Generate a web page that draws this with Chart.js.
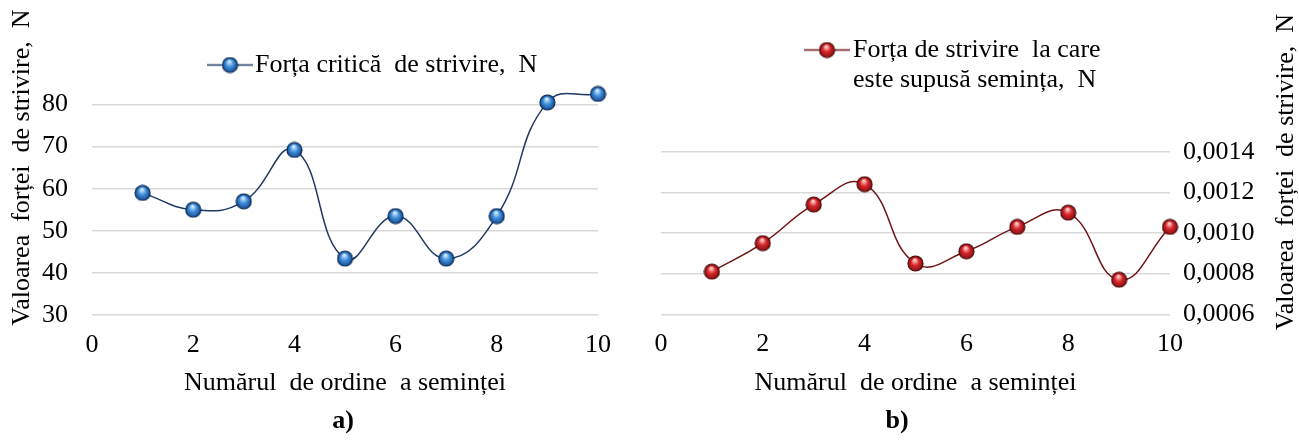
<!DOCTYPE html>
<html>
<head>
<meta charset="utf-8">
<script src="https://cdn.jsdelivr.net/npm/chart.js@4.4.1/dist/chart.umd.min.js"></script>
<style>
  html, body { margin: 0; padding: 0; background: #fff; }
  #wrap { position: relative; width: 1299px; height: 441px; overflow: hidden; }
  .panel { position: absolute; top: 0; height: 441px; }
  #pa { left: 0; width: 650px; }
  #pb { left: 650px; width: 649px; }
  .cap {
    position: absolute; top: 404px; transform: translateX(-50%);
    font: bold 26px 'Liberation Serif', 'Times New Roman', serif;
    line-height: 32px; color: #000; white-space: nowrap;
  }
</style>
</head>
<body>
<div id="wrap">
  <div class="panel" id="pa"><canvas id="ca" width="650" height="441"></canvas></div>
  <div class="panel" id="pb"><canvas id="cb" width="649" height="441"></canvas></div>
  <div class="cap" style="left:343px">a)</div>
  <div class="cap" style="left:897px">b)</div>
</div>
<script>
// Seed number (x) and measured forces
const seeds = [1, 2, 3, 4, 5, 6, 7, 8, 9, 10];
const criticalForce = [59, 55, 57, 69.2, 43.4, 53.5, 43.4, 53.5, 80.5, 82.5];
const appliedForce = [0.00081, 0.00095, 0.00114, 0.00124, 0.00085, 0.00091, 0.00103, 0.00110, 0.00077, 0.00103];

// Axis ticks
const xTicks = [0, 2, 4, 6, 8, 10];
const yTicksA = [30, 40, 50, 60, 70, 80];
const yTicksB = [0.0006, 0.0008, 0.0010, 0.0012, 0.0014];

// Texts
const legendA = ['Forța critică  de strivire,  N'];
const legendB = ['Forța de strivire  la care', 'este supusă semința,  N'];
const xTitle = 'Numărul  de ordine  a seminței';
const yTitle = 'Valoarea  forței  de strivire,  N';

const SERIF = "'Liberation Serif', 'Times New Roman', serif";
const FONT = { family: SERIF, size: 26, lineHeight: 1.2 };
const GRID = '#d9d9d9';
const CLEAR = 'rgba(0,0,0,0)';

// Glossy sphere used as point marker
function ball(r, light, mid, dark, rim) {
  const s = Math.ceil(r * 2 + 2);
  const c = document.createElement('canvas');
  c.width = s; c.height = s;
  const g = c.getContext('2d');
  const cx = s / 2, cy = s / 2;
  const grad = g.createRadialGradient(cx - r * 0.1, cy - r * 0.5, r * 0.08, cx, cy + r * 0.1, r * 1.05);
  grad.addColorStop(0, light);
  grad.addColorStop(0.45, mid);
  grad.addColorStop(1, dark);
  g.beginPath();
  g.arc(cx, cy, r, 0, Math.PI * 2);
  g.fillStyle = grad;
  g.fill();
  g.lineWidth = 1.2;
  g.strokeStyle = rim;
  g.stroke();
  return c;
}

// Legend symbol: short line with the marker in the middle
function legendIcon(marker, lineColor) {
  const c = document.createElement('canvas');
  c.width = 46; c.height = marker.height;
  const g = c.getContext('2d');
  g.strokeStyle = lineColor;
  g.lineWidth = 1.6;
  g.beginPath();
  g.moveTo(0, c.height / 2);
  g.lineTo(46, c.height / 2);
  g.stroke();
  g.drawImage(marker, 23 - marker.width / 2, 0);
  return c;
}

const blueBall = ball(7.5, '#d8efff', '#3f8fdc', '#0f3f80', '#0b2a55');
const redBall = ball(7.5, '#ffd6d6', '#d8262a', '#7a0c0e', '#4a0a0a');
const blueLine = '#1f3864';
const redLine = '#6e1515';

// Legend drawn inside the plot area
const floatLegend = {
  id: 'floatLegend',
  afterDraw(chart, args, opts) {
    const ctx = chart.ctx;
    ctx.save();
    ctx.drawImage(opts.icon, opts.x - opts.icon.width / 2, opts.y - opts.icon.height / 2);
    ctx.font = '26px ' + SERIF;
    ctx.fillStyle = '#000';
    ctx.textAlign = 'left';
    ctx.textBaseline = 'middle';
    opts.lines.forEach((t, i) => ctx.fillText(t, opts.textX, opts.y + i * opts.lineGap));
    ctx.restore();
  }
};

// Rotated axis title reading bottom-to-top, used for the right-hand axis
const sideTitle = {
  id: 'sideTitle',
  afterDraw(chart, args, opts) {
    if (!opts || !opts.text) return;
    const ctx = chart.ctx, a = chart.chartArea;
    ctx.save();
    ctx.translate(opts.x, (a.top + a.bottom) / 2);
    ctx.rotate(-Math.PI / 2);
    ctx.font = '26px ' + SERIF;
    ctx.fillStyle = '#000';
    ctx.textAlign = 'center';
    ctx.textBaseline = 'middle';
    ctx.fillText(opts.text, 0, 0);
    ctx.restore();
  }
};

function points(ys) {
  return seeds.map((x, i) => ({ x: x, y: ys[i] }));
}

// The label gap is made with invisible tick marks so it does not widen the layout padding
function xScale(height) {
  return {
    type: 'linear', min: 0, max: 10,
    afterBuildTicks: s => { s.ticks = xTicks.map(v => ({ value: v })); },
    afterFit: s => { s.height = height; },
    grid: { display: true, drawOnChartArea: false, drawTicks: true, tickLength: 14.4, tickColor: CLEAR, color: CLEAR },
    border: { display: false },
    ticks: { font: FONT, color: '#000', padding: 0, maxRotation: 0 },
    title: { display: true, text: xTitle, font: FONT, color: '#000', padding: 0 }
  };
}

// a) critical crushing force
new Chart(document.getElementById('ca'), {
  type: 'line',
  data: {
    datasets: [{
      label: legendA[0],
      data: points(criticalForce),
      borderColor: blueLine,
      borderWidth: 1.5,
      tension: 0.45,
      pointStyle: blueBall,
      pointRadius: 8,
      pointHoverRadius: 8,
      fill: false,
      clip: false
    }]
  },
  options: {
    responsive: false,
    animation: false,
    events: [],
    layout: { padding: { left: 0, right: 52, top: 20.3, bottom: 42.4 } },
    plugins: {
      legend: { display: false },
      tooltip: { enabled: false },
      floatLegend: { icon: legendIcon(blueBall, blueLine), x: 230, y: 65, textX: 255, lines: legendA, lineGap: 30 }
    },
    scales: {
      x: xScale(83.6),
      y: {
        min: 30, max: 100,
        afterBuildTicks: s => { s.ticks = yTicksA.map(v => ({ value: v })); },
        afterFit: s => { s.width = 92; },
        grid: { color: GRID, lineWidth: 1.5, drawTicks: true, tickLength: 22, tickColor: CLEAR },
        border: { display: false },
        ticks: { font: FONT, color: '#000', padding: 2 },
        title: { display: true, text: yTitle, font: FONT, color: '#000', padding: { top: 6.4, bottom: 0 } }
      }
    }
  },
  plugins: [floatLegend]
});

// b) crushing force applied to the seed
new Chart(document.getElementById('cb'), {
  type: 'line',
  data: {
    datasets: [{
      label: legendB.join(' '),
      data: points(appliedForce),
      borderColor: redLine,
      borderWidth: 1.5,
      tension: 0.45,
      pointStyle: redBall,
      pointRadius: 8,
      pointHoverRadius: 8,
      fill: false,
      clip: false
    }]
  },
  options: {
    responsive: false,
    animation: false,
    events: [],
    layout: { padding: { left: 11, right: 0, top: 29.75, bottom: 42.4 } },
    plugins: {
      legend: { display: false },
      tooltip: { enabled: false },
      floatLegend: { icon: legendIcon(redBall, redLine), x: 177, y: 50, textX: 203, lines: legendB, lineGap: 30 },
      sideTitle: { text: yTitle, x: 636 }
    },
    scales: {
      x: xScale(84.3),
      y: {
        position: 'right',
        min: 0.0006, max: 0.002,
        afterBuildTicks: s => { s.ticks = yTicksB.map(v => ({ value: v })); },
        afterFit: s => { s.width = 129; },
        grid: { color: GRID, lineWidth: 1.5, drawTicks: true, tickLength: 12, tickColor: CLEAR },
        border: { display: false },
        ticks: {
          font: FONT, color: '#000', padding: 1,
          callback: v => Number(v).toFixed(4).replace('.', ',')
        },
        title: { display: false }
      }
    }
  },
  plugins: [floatLegend, sideTitle]
});
</script>
</body>
</html>
